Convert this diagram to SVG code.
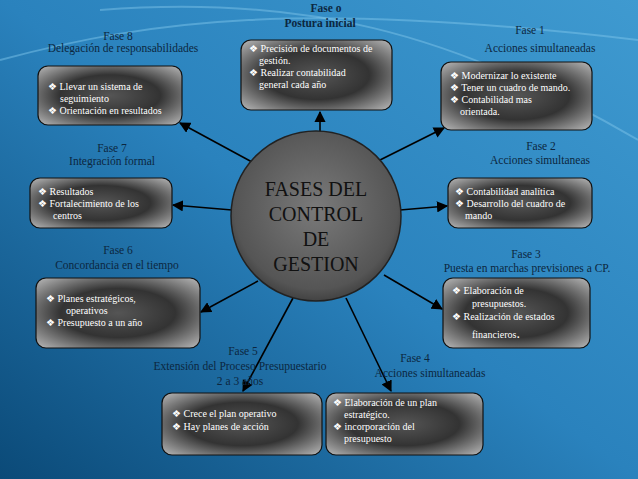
<svg xmlns="http://www.w3.org/2000/svg" width="638" height="479" viewBox="0 0 638 479">
<defs>
<linearGradient id="bg" x1="0" y1="1" x2="1" y2="0"><stop offset="0" stop-color="#0b4a78"/><stop offset="0.5" stop-color="#2a82bd"/><stop offset="1" stop-color="#3f9ad0"/></linearGradient>
<radialGradient id="box" cx="0.5" cy="0.5" r="0.7"><stop offset="0" stop-color="#555"/><stop offset="0.5" stop-color="#333"/><stop offset="1" stop-color="#b8b8b8"/></radialGradient>
<radialGradient id="circ" cx="0.5" cy="0.45" r="0.6"><stop offset="0" stop-color="#7a7a7a"/><stop offset="0.8" stop-color="#555"/><stop offset="1" stop-color="#353535"/></radialGradient>
<marker id="ah" viewBox="0 0 10 10" refX="9" refY="5" markerWidth="7" markerHeight="7" orient="auto"><path d="M0,0 L10,5 L0,10 z" fill="#000"/></marker>
<style>
.b{fill:url(#box);stroke:#111;stroke-width:1.2}
.t{font-size:10px;fill:#fff}
.l{font-size:11.5px;fill:#0c2740;text-anchor:middle}
.c{stroke:#000;stroke-width:1.6;fill:none;marker-end:url(#ah)}
</style>
</defs>
<rect width="638" height="479" fill="url(#bg)"/>
<path d="M0,60 C150,20 300,0 638,40" stroke="#7cc4ea" stroke-width="2" fill="none" opacity="0.5"/>
<path d="M100,10 C300,-5 450,30 638,140" stroke="#8ed0f0" stroke-width="2" fill="none" opacity="0.4"/>
<g id="connectors">
<line class="c" x1="320" y1="132" x2="320" y2="112"/>
<line class="c" x1="380" y1="160" x2="444" y2="128"/>
<line class="c" x1="252" y1="162" x2="180" y2="123"/>
<line class="c" x1="400" y1="210" x2="447" y2="206"/>
<line class="c" x1="232" y1="210" x2="173" y2="205"/>
<line class="c" x1="258" y1="281" x2="201" y2="312"/>
<line class="c" x1="384" y1="275" x2="442" y2="309"/>
<line class="c" x1="293" y1="298" x2="243" y2="391"/>
<line class="c" x1="346" y1="298" x2="391" y2="391"/>
</g>
<g font-family="'Liberation Serif', 'DejaVu Serif', serif">
<g id="center"><circle cx="316" cy="216" r="85" fill="url(#circ)" stroke="#222" stroke-width="1.5"/>
<text font-size="20" fill="#111" text-anchor="middle"><tspan x="316" y="196">FASES DEL</tspan><tspan x="316" y="221">CONTROL</tspan><tspan x="316" y="246">DE</tspan><tspan x="316" y="271">GESTION</tspan></text></g>
<g id="fase0"><text class="l" x="326" y="12" font-weight="bold">Fase o</text><text class="l" x="320" y="27" font-weight="bold">Postura  inicial</text>
<rect class="b" x="241" y="40" width="151" height="70" rx="10"/>
<text class="t"><tspan x="249" y="52">❖ Precisión de documentos de</tspan><tspan x="259" y="64">gestión.</tspan><tspan x="249" y="76">❖ Realizar              contabilidad</tspan><tspan x="259" y="88">general  cada año</tspan></text></g>
<g id="fase1"><text class="l" x="530" y="34">Fase 1</text><text class="l" x="540" y="52">Acciones simultaneadas</text>
<rect class="b" x="441" y="62" width="151" height="68" rx="10"/>
<text class="t"><tspan x="450" y="79">❖ Modernizar lo existente</tspan><tspan x="450" y="91">❖ Tener un cuadro de mando.</tspan><tspan x="450" y="103">❖ Contabilidad mas</tspan><tspan x="460" y="115">orientada.</tspan></text></g>
<g id="fase8"><text class="l" x="118" y="40">Fase 8</text><text class="l" x="123" y="52">Delegación de responsabilidades</text>
<rect class="b" x="38" y="66" width="144" height="59" rx="10"/>
<text class="t"><tspan x="48" y="90">❖ Llevar un sistema de</tspan><tspan x="60" y="102">seguimiento</tspan><tspan x="48" y="114">❖ Orientación en resultados</tspan></text></g>
<g id="fase2"><text class="l" x="541" y="150">Fase 2</text><text class="l" x="540" y="164">Acciones  simultaneas</text>
<rect class="b" x="448" y="178" width="144" height="50" rx="10"/>
<text class="t"><tspan x="455" y="195">❖ Contabilidad analítica</tspan><tspan x="455" y="207">❖ Desarrollo del cuadro de</tspan><tspan x="465" y="219">mando</tspan></text></g>
<g id="fase7"><text class="l" x="112" y="152">Fase 7</text><text class="l" x="112" y="165">Integración formal</text>
<rect class="b" x="30" y="178" width="142" height="50" rx="10"/>
<text class="t"><tspan x="38" y="195">❖   Resultados</tspan><tspan x="38" y="207">❖   Fortalecimiento de los</tspan><tspan x="53" y="219">centros</tspan></text></g>
<g id="fase6"><text class="l" x="118" y="254">Fase 6</text><text class="l" x="117" y="269">Concordancia  en  el  tiempo</text>
<rect class="b" x="36" y="278" width="164" height="70" rx="10"/>
<text class="t"><tspan x="46" y="302">❖    Planes estratégicos,</tspan><tspan x="66" y="314">operativos</tspan><tspan x="46" y="326">❖    Presupuesto a un año</tspan></text></g>
<g id="fase3"><text class="l" x="526" y="258">Fase 3</text><text class="l" x="527" y="272">Puesta en marchas  previsiones  a CP.</text>
<rect class="b" x="443" y="278" width="147" height="70" rx="10"/>
<text class="t"><tspan x="452" y="294">❖    Elaboración   de</tspan><tspan x="472" y="307">presupuestos.</tspan><tspan x="452" y="320">❖    Realización de estados</tspan><tspan x="472" y="338">financieros<tspan font-size="14">.</tspan></tspan></text></g>
<g id="fase5"><text class="l" x="243" y="355">Fase 5</text><text class="l" x="240" y="370">Extensión del Proceso  Presupuestario</text><text class="l" x="240" y="385">2 a 3 años</text>
<rect class="b" x="162" y="393" width="160" height="62" rx="10"/>
<text class="t"><tspan x="172" y="417">❖    Crece el plan  operativo</tspan><tspan x="172" y="430">❖    Hay planes de acción</tspan></text></g>
<g id="fase4"><text class="l" x="415" y="362">Fase 4</text><text class="l" x="430" y="377">Acciones simultaneadas</text>
<rect class="b" x="326" y="393" width="157" height="62" rx="10"/>
<text class="t"><tspan x="333" y="406">❖ Elaboración   de   un   plan</tspan><tspan x="344" y="418">estratégico.</tspan><tspan x="333" y="430">❖ incorporación del</tspan><tspan x="344" y="442">presupuesto</tspan></text></g>
</g>
</svg>
